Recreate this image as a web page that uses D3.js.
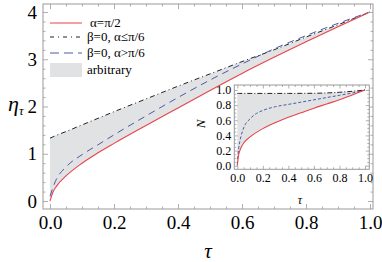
<!DOCTYPE html>
<html>
<head>
<meta charset="utf-8">
<script src="https://cdn.jsdelivr.net/npm/d3@7"></script>
<style>
  body { margin: 0; background: #fff; }
  svg { display: block; }
</style>
</head>
<body>
<svg id="chart" width="382" height="262"></svg>
<script>
// tau grid shared by all curves
const tau = [0, 0.01, 0.02, 0.05, 0.1, 0.15, 0.2, 0.3, 0.4, 0.5, 0.6, 0.7, 0.8, 0.9, 1];

// main plot, eta_tau
const etaRed = [0, 0.2, 0.31, 0.53, 0.8, 1.02, 1.22, 1.6, 1.97, 2.34, 2.7, 3.04, 3.37, 3.69, 4];
const etaBlue = [0.1, 0.3, 0.46, 0.72, 0.98, 1.19, 1.4, 1.8, 2.19, 2.56, 2.9, 3.22, 3.5, 3.76, 4];
const etaBlack = [1.33, 1.36, 1.39, 1.47, 1.61, 1.75, 1.89, 2.16, 2.43, 2.69, 2.95, 3.2, 3.47, 3.73, 4];

// inset, N
const nRed = [0, 0.14, 0.2, 0.3, 0.38, 0.44, 0.49, 0.57, 0.64, 0.7, 0.76, 0.815, 0.87, 0.935, 1];
const nBlue = [0.02, 0.22, 0.32, 0.5, 0.62, 0.69, 0.73, 0.78, 0.81, 0.84, 0.87, 0.9, 0.93, 0.96, 1];
const nBlack = [0.955, 0.955, 0.955, 0.955, 0.955, 0.955, 0.955, 0.955, 0.955, 0.956, 0.957, 0.961, 0.97, 0.983, 1];

const xTicks = [0, 0.2, 0.4, 0.6, 0.8, 1.0];
const yTicks = [0, 1, 2, 3, 4];
const insetTicks = [0, 0.2, 0.4, 0.6, 0.8, 1.0];

const legendItems = [
  { label: 'α=π/2', kind: 'red' },
  { label: 'β=0, α≤π/6', kind: 'black' },
  { label: 'β=0, α>π/6', kind: 'blue' },
  { label: 'arbitrary', kind: 'fill' }
];

const RED = '#e8434c', BLUE = '#4b5aa8', BLACK = '#222', FILL = '#e1e2e4', FRAME = '#9a9a9a';
const SERIF = '"Liberation Serif"';

const svg = d3.select('#chart');

function rows(ys) { return tau.map((t, i) => [t, ys[i]]); }

function frameAxes(g, x, y, o) {
  const L = x.invert(o.left), R = x.invert(o.right);
  const B = y.invert(o.bottom), T = y.invert(o.top);
  const xs = d3.scaleLinear().domain([L, R]).range([o.left, o.right]);
  const ys = d3.scaleLinear().domain([B, T]).range([o.bottom, o.top]);
  const minorX = d3.range(0, 1.0001, o.minorX).filter(v => !o.xTicks.some(t => Math.abs(t - v) < 1e-6));
  const minorY = d3.range(o.yMin, o.yMax + 1e-6, o.minorY).filter(v => !o.yTicks.some(t => Math.abs(t - v) < 1e-6));

  const add = (axis, tr, vals, size, labels) => {
    const a = g.append('g').attr('transform', tr)
      .call(axis.tickValues(vals).tickSizeInner(-size).tickSizeOuter(0).tickPadding(labels ? labels.pad : 0)
        .tickFormat(labels ? labels.fmt : () => ''));
    a.attr('font-family', null).attr('font-size', null);
    a.select('.domain').remove();
    a.selectAll('line').attr('stroke', FRAME).attr('stroke-width', 0.8);
    a.selectAll('text').style('font-family', SERIF).style('font-size', o.font + 'px').attr('fill', '#000');
    return a;
  };
  // bottom / top
  add(d3.axisBottom(xs), `translate(0,${o.bottom})`, o.xTicks, o.major, { pad: o.xPad, fmt: d3.format('.1f') });
  add(d3.axisBottom(xs), `translate(0,${o.bottom})`, minorX, o.minor);
  add(d3.axisTop(xs), `translate(0,${o.top})`, o.xTicks, o.major);
  add(d3.axisTop(xs), `translate(0,${o.top})`, minorX, o.minor);
  // left / right
  add(d3.axisLeft(ys), `translate(${o.left},0)`, o.yTicks, o.major, { pad: o.yPad, fmt: o.yFmt });
  add(d3.axisLeft(ys), `translate(${o.left},0)`, minorY, o.minor);
  add(d3.axisRight(ys), `translate(${o.right},0)`, o.yTicks, o.major);
  add(d3.axisRight(ys), `translate(${o.right},0)`, minorY, o.minor);

  g.append('rect')
    .attr('x', o.left).attr('y', o.top)
    .attr('width', o.right - o.left).attr('height', o.bottom - o.top)
    .attr('fill', 'none').attr('stroke', FRAME).attr('stroke-width', 1);
}

function curves(g, x, y, red, blue, black, dashBlue, dashBlack) {
  const area = d3.area()
    .x((d, i) => x(tau[i]))
    .y0((d, i) => y(red[i]))
    .y1((d, i) => y(black[i]))
    .curve(d3.curveMonotoneX);
  g.append('path').datum(tau).attr('d', area).attr('fill', FILL);

  const line = d3.line().x(d => x(d[0])).y(d => y(d[1])).curve(d3.curveMonotoneX);
  g.append('path').datum(rows(black)).attr('d', line)
    .attr('fill', 'none').attr('stroke', BLACK).attr('stroke-width', 1).attr('stroke-dasharray', dashBlack);
  g.append('path').datum(rows(blue)).attr('d', line)
    .attr('fill', 'none').attr('stroke', BLUE).attr('stroke-width', 1).attr('stroke-dasharray', dashBlue);
  g.append('path').datum(rows(red)).attr('d', line)
    .attr('fill', 'none').attr('stroke', RED).attr('stroke-width', 1.1);
}

function label(sel, size, italic) {
  return sel.style('font-family', SERIF).style('font-size', size + 'px')
    .style('font-style', italic ? 'italic' : 'normal');
}

// ---------- main plot ----------
const main = { left: 43, right: 373, top: 4, bottom: 209 };
const x = d3.scaleLinear().domain([0, 1]).range([50, 370]);
const y = d3.scaleLinear().domain([0, 4]).range([201, 12]);

const gMain = svg.append('g');
curves(gMain, x, y, etaRed, etaBlue, etaBlack, '7,5', '5,3,1,3');
frameAxes(gMain, x, y, Object.assign({}, main, {
  xTicks, yTicks, minorX: 0.05, minorY: 0.2, yMin: 0, yMax: 4,
  major: 5, minor: 2.5, font: 19, xPad: 7, yPad: 6, yFmt: d3.format('d')
}));

label(svg.append('text'), 21, true).attr('x', (main.left + main.right) / 2).attr('y', 258)
  .attr('text-anchor', 'middle').text('τ');
const yt = label(svg.append('text'), 22, true).attr('x', 8).attr('y', 111);
yt.append('tspan').text('η');
yt.append('tspan').attr('dy', 4).style('font-size', '13px').text('τ');

// legend
const lg = svg.append('g');
legendItems.forEach((d, i) => {
  const cy = [23, 37, 53, 70][i];
  if (d.kind === 'fill') {
    lg.append('rect').attr('x', 50).attr('y', cy - 7).attr('width', 32).attr('height', 14).attr('fill', FILL);
  } else {
    lg.append('line').attr('x1', 50).attr('x2', 82).attr('y1', cy).attr('y2', cy)
      .attr('stroke', d.kind === 'red' ? RED : d.kind === 'blue' ? BLUE : BLACK)
      .attr('stroke-width', 1)
      .attr('stroke-dasharray', d.kind === 'blue' ? '9,5' : d.kind === 'black' ? '4,4,1,4' : null);
  }
  label(lg.append('text'), 13, false).attr('x', d.kind === 'red' ? 90 : 87).attr('y', cy + 4).text(d.label);
});

// ---------- inset ----------
const ins = { left: 234.3, right: 369.3, top: 85, bottom: 169.3 };
const xi = d3.scaleLinear().domain([0, 1]).range([237.3, 365]);
const yi = d3.scaleLinear().domain([0, 1]).range([165.7, 90]);

const gIns = svg.append('g');
gIns.append('rect').attr('x', ins.left).attr('y', ins.top)
  .attr('width', ins.right - ins.left).attr('height', ins.bottom - ins.top).attr('fill', '#fff');
curves(gIns, xi, yi, nRed, nBlue, nBlack, '3,2', '5,2,1,2');
frameAxes(gIns, xi, yi, Object.assign({}, ins, {
  xTicks: insetTicks, yTicks: insetTicks, minorX: 0.05, minorY: 0.05, yMin: 0, yMax: 1,
  major: 3.5, minor: 2, font: 12, xPad: 4, yPad: 3, yFmt: d3.format('.1f')
}));
label(svg.append('text'), 12, true).attr('x', 300).attr('y', 204).attr('text-anchor', 'middle').text('τ');
label(svg.append('text'), 13, true).attr('transform', 'translate(205,124) rotate(-90)')
  .attr('text-anchor', 'middle').text('N');
</script>
</body>
</html>
